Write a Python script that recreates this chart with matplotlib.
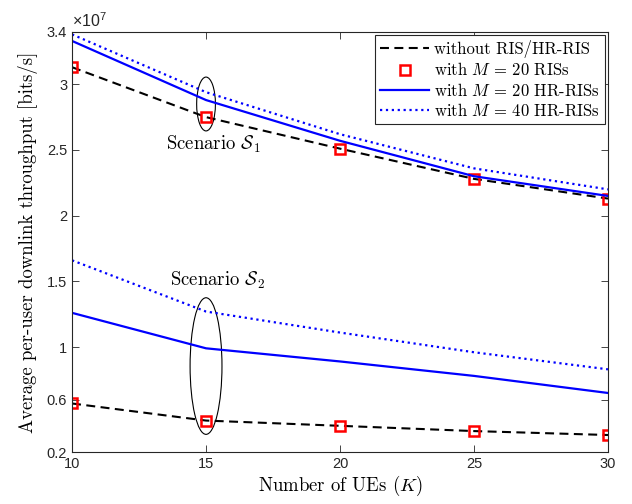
import matplotlib.pyplot as plt
from matplotlib.patches import Ellipse

plt.rcParams["mathtext.fontset"] = "cm"
plt.rcParams["axes.formatter.use_mathtext"] = True

# number of UEs
K = [10, 15, 20, 25, 30]

# throughput in units of 1e7 bits/s, scenario S1 (upper group)
s1_no_ris = [3.13, 2.75, 2.51, 2.28, 2.13]
s1_ris20 = [3.13, 2.75, 2.51, 2.28, 2.13]
s1_hr20 = [3.33, 2.88, 2.57, 2.30, 2.15]
s1_hr40 = [3.38, 2.94, 2.62, 2.36, 2.20]

# scenario S2 (lower group)
s2_no_ris = [0.57, 0.44, 0.40, 0.36, 0.33]
s2_ris20 = [0.57, 0.44, 0.40, 0.36, 0.33]
s2_hr20 = [1.26, 0.99, 0.89, 0.78, 0.65]
s2_hr40 = [1.66, 1.27, 1.11, 0.96, 0.83]

yticks = [0.2, 0.6, 1, 1.5, 2, 2.5, 3, 3.4]
ytick_labels = ["0.2", "0.6", "1", "1.5", "2", "2.5", "3", "3.4"]
xticks = [10, 15, 20, 25, 30]

serif = "cmr10"
sans = "Liberation Sans"

fig = plt.figure(figsize=(6.32, 5.04), dpi=100)
ax = fig.add_axes([0.114, 0.103, 0.848, 0.834])

dash = (4.3, 2.6)
ax.plot(K, s1_no_ris, "k--", lw=1.5, dashes=dash, label="without RIS/HR-RIS")
ax.plot(K, s1_ris20, "s", color="r", mfc="none", ms=7.5, mew=1.8, ls="none",
        label=r"with $M\,=\,20$ RISs")
ax.plot(K, s1_hr20, "-", color="b", lw=1.6, label=r"with $M\,=\,20$ HR-RISs")
ax.plot(K, s1_hr40, ":", color="b", lw=1.6, label=r"with $M\,=\,40$ HR-RISs")

ax.plot(K, s2_no_ris, "k--", lw=1.5, dashes=dash)
ax.plot(K, s2_ris20, "s", color="r", mfc="none", ms=7.5, mew=1.8, ls="none")
ax.plot(K, s2_hr20, "-", color="b", lw=1.6)
ax.plot(K, s2_hr40, ":", color="b", lw=1.6)

# scenario annotations
ax.add_patch(Ellipse((15, 2.85), 0.7, 0.41, fill=False, ec="k", lw=0.8))
ax.add_patch(Ellipse((15, 0.855), 1.19, 1.04, fill=False, ec="k", lw=0.8))
ax.text(13.5, 2.54, r"Scenario $\mathcal{S}_1$", fontsize=13.5, family=serif,
        va="center", ha="left")
ax.text(13.65, 1.51, r"Scenario $\mathcal{S}_2$", fontsize=13.5, family=serif,
        va="center", ha="left")

ax.set_xlim(10, 30)
ax.set_ylim(0.2, 3.4)
ax.set_xticks(xticks)
ax.set_xticklabels([str(x) for x in xticks], family=sans, fontsize=10.5)
ax.set_yticks(yticks)
ax.set_yticklabels(ytick_labels, family=sans, fontsize=10.5)
ax.tick_params(direction="in", top=True, right=True, length=5, width=0.6,
               colors="0.15")
for sp in ax.spines.values():
    sp.set_linewidth(0.8)
    sp.set_color("0.15")

ax.text(0.0, 1.003, r"$\mathregular{\times10^{7}}$", transform=ax.transAxes,
        fontsize=11.5, family=sans, ha="left", va="bottom", color="0.15")

ax.set_xlabel("Number of UEs ($K$)", family=serif, fontsize=13.5, labelpad=2)
ax.set_ylabel("Average per-user downlink throughput [bits/s]", family=serif,
              fontsize=13.5, labelpad=6)

leg = ax.legend(loc="upper right", prop={"family": serif, "size": 12},
                fancybox=False, edgecolor="0.15", framealpha=1,
                handlelength=2.9, borderaxespad=0.2, labelspacing=0.2,
                handletextpad=0.3, borderpad=0.3)
leg.get_frame().set_linewidth(0.8)

plt.savefig("out.png", dpi=100)
